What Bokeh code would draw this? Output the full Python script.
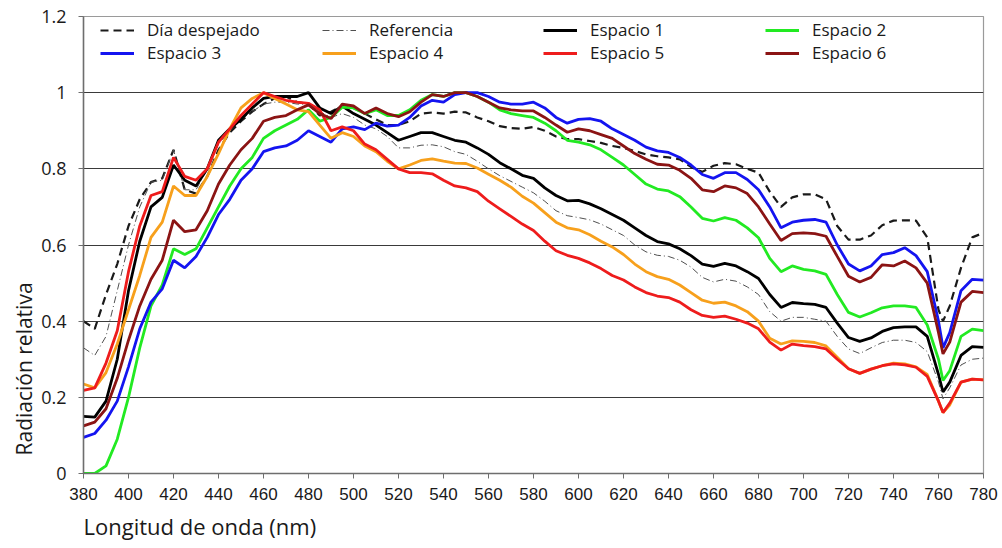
from bokeh.plotting import figure
from bokeh.models import FixedTicker, Legend, LegendItem, Title
from bokeh.embed import file_html
from bokeh.resources import INLINE

wavelength = [*range(380, 761, 5), 762, *range(765, 781, 5)]

dia_despejado = [0.40, 0.38, 0.47, 0.55, 0.65, 0.72, 0.765, 0.775, 0.85, 0.745, 0.735, 0.78, 0.85, 0.895, 0.925, 0.95, 0.97, 0.985, 0.99, 0.975,
                 0.97, 0.94, 0.95, 0.965, 0.96, 0.945, 0.93, 0.915, 0.915, 0.925, 0.945, 0.948, 0.945, 0.95, 0.948, 0.935, 0.925, 0.912, 0.907, 0.905,
                 0.91, 0.90, 0.885, 0.878, 0.878, 0.873, 0.868, 0.86, 0.855, 0.847, 0.838, 0.833, 0.83, 0.825, 0.805, 0.792, 0.808, 0.815, 0.812, 0.80,
                 0.79, 0.74, 0.70, 0.725, 0.733, 0.733, 0.72, 0.65, 0.614, 0.614, 0.625, 0.652, 0.664, 0.665, 0.664, 0.62, 0.43, 0.40, 0.44, 0.54,
                 0.62, 0.632]
referencia = [0.33, 0.31, 0.36, 0.48, 0.60, 0.70, 0.765, 0.77, 0.85, 0.745, 0.745, 0.80, 0.865, 0.90, 0.93, 0.95, 0.97, 0.975, 0.975, 0.97,
              0.97, 0.95, 0.935, 0.945, 0.935, 0.915, 0.905, 0.885, 0.855, 0.855, 0.862, 0.863, 0.858, 0.845, 0.838, 0.82, 0.80, 0.782, 0.767, 0.752,
              0.737, 0.715, 0.69, 0.677, 0.672, 0.666, 0.655, 0.64, 0.625, 0.60, 0.582, 0.573, 0.57, 0.56, 0.542, 0.515, 0.503, 0.51, 0.505, 0.49,
              0.47, 0.425, 0.40, 0.41, 0.41, 0.405, 0.40, 0.36, 0.327, 0.315, 0.33, 0.344, 0.35, 0.35, 0.344, 0.32, 0.24, 0.196, 0.225, 0.285,
              0.30, 0.303]
espacio_1 = [0.15, 0.148, 0.19, 0.30, 0.48, 0.61, 0.70, 0.725, 0.81, 0.77, 0.755, 0.80, 0.875, 0.905, 0.93, 0.96, 0.985, 0.99, 0.99, 0.99,
             1.0, 0.96, 0.945, 0.965, 0.945, 0.93, 0.915, 0.895, 0.875, 0.885, 0.895, 0.895, 0.885, 0.875, 0.87, 0.855, 0.838, 0.816, 0.80, 0.783,
             0.775, 0.75, 0.73, 0.716, 0.717, 0.708, 0.695, 0.68, 0.665, 0.645, 0.625, 0.609, 0.603, 0.59, 0.572, 0.55, 0.544, 0.552, 0.545, 0.53,
             0.512, 0.47, 0.436, 0.449, 0.446, 0.444, 0.436, 0.395, 0.357, 0.347, 0.356, 0.373, 0.383, 0.385, 0.385, 0.36, 0.26, 0.214, 0.24, 0.31,
             0.333, 0.331]
espacio_2 = [0.0, 0.0, 0.02, 0.09, 0.20, 0.33, 0.44, 0.495, 0.59, 0.575, 0.59, 0.645, 0.70, 0.755, 0.80, 0.83, 0.88, 0.90, 0.915, 0.93,
             0.955, 0.925, 0.935, 0.962, 0.96, 0.945, 0.955, 0.94, 0.94, 0.955, 0.98, 0.995, 0.99, 1.0, 1.0, 0.99, 0.975, 0.955, 0.945, 0.94,
             0.935, 0.92, 0.90, 0.875, 0.87, 0.863, 0.85, 0.83, 0.81, 0.785, 0.76, 0.747, 0.742, 0.727, 0.70, 0.67, 0.663, 0.672, 0.665, 0.645,
             0.619, 0.565, 0.53, 0.545, 0.536, 0.532, 0.523, 0.47, 0.423, 0.411, 0.422, 0.435, 0.44, 0.44, 0.436, 0.39, 0.30, 0.244, 0.27, 0.36,
             0.379, 0.375]
espacio_3 = [0.095, 0.105, 0.14, 0.19, 0.28, 0.38, 0.45, 0.485, 0.56, 0.54, 0.57, 0.62, 0.68, 0.72, 0.77, 0.80, 0.845, 0.855, 0.86, 0.875,
             0.90, 0.885, 0.87, 0.905, 0.91, 0.903, 0.92, 0.912, 0.915, 0.935, 0.965, 0.98, 0.975, 0.995, 1.0, 1.0, 0.99, 0.975, 0.97, 0.97,
             0.975, 0.96, 0.935, 0.92, 0.93, 0.932, 0.925, 0.905, 0.89, 0.875, 0.857, 0.847, 0.843, 0.83, 0.81, 0.785, 0.775, 0.79, 0.79, 0.772,
             0.745, 0.70, 0.645, 0.66, 0.665, 0.667, 0.66, 0.60, 0.55, 0.532, 0.545, 0.575, 0.58, 0.593, 0.572, 0.53, 0.40, 0.33, 0.37, 0.48,
             0.51, 0.508]
espacio_4 = [0.235, 0.225, 0.265, 0.34, 0.43, 0.52, 0.62, 0.66, 0.755, 0.73, 0.73, 0.78, 0.84, 0.905, 0.96, 0.985, 1.0, 0.985, 0.97, 0.955,
             0.95, 0.915, 0.88, 0.895, 0.885, 0.86, 0.845, 0.82, 0.80, 0.81, 0.822, 0.826, 0.82, 0.815, 0.814, 0.802, 0.786, 0.77, 0.752, 0.728,
             0.71, 0.685, 0.66, 0.645, 0.64, 0.627, 0.61, 0.595, 0.575, 0.55, 0.53, 0.517, 0.51, 0.495, 0.475, 0.455, 0.447, 0.45, 0.44, 0.425,
             0.40, 0.355, 0.34, 0.348, 0.347, 0.344, 0.335, 0.305, 0.275, 0.263, 0.274, 0.283, 0.29, 0.288, 0.28, 0.26, 0.19, 0.16, 0.18, 0.24,
             0.248, 0.246]
espacio_5 = [0.218, 0.225, 0.29, 0.375, 0.53, 0.65, 0.73, 0.74, 0.83, 0.78, 0.77, 0.80, 0.87, 0.905, 0.94, 0.97, 1.0, 0.99, 0.98, 0.975,
             0.972, 0.955, 0.90, 0.91, 0.90, 0.865, 0.85, 0.825, 0.80, 0.79, 0.79, 0.787, 0.77, 0.755, 0.75, 0.74, 0.715, 0.695, 0.675, 0.655,
             0.638, 0.61, 0.585, 0.573, 0.565, 0.553, 0.538, 0.52, 0.508, 0.49, 0.475, 0.466, 0.462, 0.45, 0.43, 0.415, 0.41, 0.413, 0.405, 0.395,
             0.38, 0.345, 0.324, 0.34, 0.336, 0.333, 0.327, 0.30, 0.275, 0.263, 0.274, 0.283, 0.288, 0.285, 0.279, 0.255, 0.19, 0.16, 0.185, 0.24,
             0.248, 0.246]
espacio_6 = [0.125, 0.135, 0.17, 0.25, 0.35, 0.44, 0.51, 0.56, 0.665, 0.635, 0.64, 0.69, 0.76, 0.81, 0.85, 0.88, 0.925, 0.935, 0.94, 0.955,
             0.968, 0.945, 0.932, 0.97, 0.965, 0.945, 0.96, 0.945, 0.937, 0.95, 0.975, 0.995, 0.99, 1.0, 1.0, 0.99, 0.975, 0.96, 0.955, 0.952,
             0.952, 0.935, 0.915, 0.896, 0.905, 0.90, 0.89, 0.88, 0.86, 0.84, 0.825, 0.812, 0.81, 0.796, 0.775, 0.745, 0.74, 0.755, 0.75, 0.735,
             0.70, 0.655, 0.612, 0.63, 0.632, 0.63, 0.623, 0.57, 0.518, 0.503, 0.515, 0.548, 0.545, 0.558, 0.54, 0.50, 0.37, 0.314, 0.345, 0.45,
             0.478, 0.475]

x_ticks = list(range(380, 781, 20))
y_ticks = [0, 0.2, 0.4, 0.6, 0.8, 1, 1.2]
y_labels = {0: "0", 1: "1"}

p = figure(width=1000, height=548, output_backend="svg", toolbar_location=None,
           x_range=(380, 780), y_range=(0, 1.2),
           min_border_left=83, min_border_right=17, min_border_top=16, min_border_bottom=75)
p.background_fill_color = "white"
p.border_fill_color = "white"
p.outline_line_color = "#9a9a9a"
p.outline_line_width = 1.2

p.xgrid.visible = False
p.ygrid.ticker = FixedTicker(ticks=[0.2, 0.4, 0.6, 0.8, 1.0])
p.ygrid.grid_line_color = "#3a3a3a"
p.ygrid.grid_line_width = 1

p.xaxis.ticker = FixedTicker(ticks=x_ticks)
p.yaxis.ticker = FixedTicker(ticks=y_ticks)
p.yaxis.major_label_overrides = y_labels
for ax in (p.xaxis, p.yaxis):
    ax.minor_tick_line_color = None
    ax.major_tick_in = 0
    ax.major_tick_out = 5
    ax.axis_line_color = "#6e6e6e"
    ax.axis_line_width = 1.5
    ax.major_tick_line_color = "#6e6e6e"
    ax.major_label_text_color = "#1a1a1a"
p.xaxis.major_label_text_font = "Liberation Sans Narrow, Liberation Sans"
p.xaxis.major_label_text_font_size = "17px"
p.xaxis.major_label_standoff = 9
p.yaxis.major_label_text_font = "Open Sans"
p.yaxis.major_label_text_font_size = "18px"
p.yaxis.major_label_standoff = 12

series = [
    ("Día despejado", dia_despejado, "#1a1a1a", 2.2, "8 5"),
    ("Referencia", referencia, "#505050", 1.0, "7 3 1 3"),
    ("Espacio 1", espacio_1, "#000000", 2.8, "solid"),
    ("Espacio 2", espacio_2, "#22ea22", 2.8, "solid"),
    ("Espacio 3", espacio_3, "#1414f0", 2.8, "solid"),
    ("Espacio 4", espacio_4, "#f7a01c", 2.8, "solid"),
    ("Espacio 5", espacio_5, "#ee1c1c", 2.8, "solid"),
    ("Espacio 6", espacio_6, "#8b1414", 2.8, "solid"),
]
renderers = {}
for name, ys, color, w, dash in series:
    renderers[name] = p.line(wavelength, ys, line_color=color, line_width=w, line_dash=dash)

columns = [("Día despejado", "Espacio 3", 17), ("Referencia", "Espacio 4", 239),
           ("Espacio 1", "Espacio 5", 460), ("Espacio 2", "Espacio 6", 682)]
for a, b, xpos in columns:
    lg = Legend(items=[LegendItem(label=a, renderers=[renderers[a]]),
                       LegendItem(label=b, renderers=[renderers[b]])],
                location=(xpos, 457 - 48), orientation="vertical",
                border_line_color=None, background_fill_alpha=0,
                padding=0, margin=0, spacing=0,
                glyph_width=34, glyph_height=20, label_height=20, label_standoff=13,
                label_text_font="Open Sans", label_text_font_size="17px",
                label_text_color="#1a1a1a")
    p.add_layout(lg, "center")

p.add_layout(Title(text="Radiación relativa", align="left", offset=18, standoff=2,
                   text_font="Open Sans", text_font_size="21px", text_font_style="normal",
                   text_color="#1a1a1a"), "left")
p.add_layout(Title(text="Longitud de onda (nm)", align="left", offset=0, standoff=12,
                   text_font="Open Sans", text_font_size="22px", text_font_style="normal",
                   text_color="#1a1a1a"), "below")

open("out.html", "w").write(file_html(p, INLINE))
